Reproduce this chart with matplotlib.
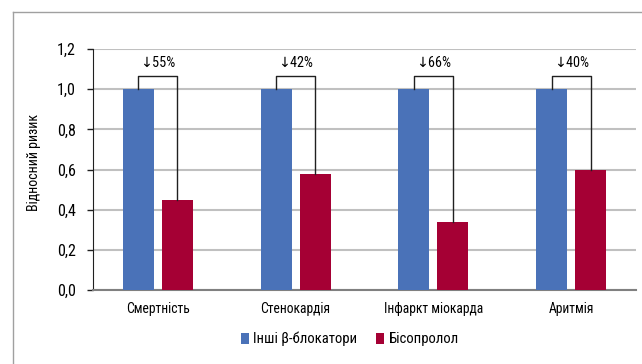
import numpy as np
import matplotlib.pyplot as plt
from matplotlib.lines import Line2D

categories = ['Смертність', 'Стенокардія', 'Інфаркт міокарда', 'Аритмія']
other_bb = [1.0, 1.0, 1.0, 1.0]
bisoprolol = [0.45, 0.58, 0.34, 0.60]
reduction = ['↓55%', '↓42%', '↓66%', '↓40%']
yticks = [0.0, 0.2, 0.4, 0.6, 0.8, 1.0, 1.2]

plt.rcParams['font.family'] = ['Roboto Condensed', 'DejaVu Sans']
plt.rcParams['font.size'] = 10

blue = '#4a72b8'
red = '#a50034'

fig = plt.figure(figsize=(6.42, 3.64), dpi=100)
ax = fig.add_axes([93/642, 1-290/364, (636-93)/642, (290-49)/364])

x = np.arange(len(categories))
w = 0.225
off = 0.141
ax.bar(x - off, other_bb, w, color=blue, zorder=3, label='Інші β-блокатори')
ax.bar(x + off, bisoprolol, w, color=red, zorder=3, label='Бісопролол')

# brackets with reduction labels
top = 1.067
for i in range(len(categories)):
    ax.plot([x[i]-off, x[i]-off, x[i]+off, x[i]+off],
            [other_bb[i], top, top, bisoprolol[i]],
            color='#202020', lw=1, zorder=4)
    ax.text(x[i], 1.13, reduction[i], ha='center', va='center', fontsize=10.3)

ax.set_xlim(-0.47, 3.47)
ax.set_ylim(0, 1.2)
ax.set_yticks(yticks)
ax.set_yticklabels([f'{v:.1f}'.replace('.', ',') for v in yticks], fontsize=11.5)
ax.set_xticks(x)
ax.set_xticklabels(categories, fontsize=9.8)
ax.tick_params(axis='x', length=0, pad=9)
ax.tick_params(axis='y', length=4.5, width=1, color='#202020', pad=8)
ax.yaxis.grid(True, color='#c0c0c0', lw=1.5, zorder=0)
ax.set_axisbelow(True)
for s in ['top', 'right']:
    ax.spines[s].set_visible(False)
ax.spines['left'].set_color('#202020')
ax.spines['bottom'].set_color('#808080')
ax.spines['bottom'].set_linewidth(1.5)
ax.set_ylabel('Відносний ризик', fontsize=10)
ax.yaxis.set_label_coords(-0.095, 0.53)

leg = fig.legend(loc='center', bbox_to_anchor=(350/642, 1-339/364), ncol=2,
                 frameon=False, handlelength=0.55, handleheight=0.75,
                 handletextpad=0.3, columnspacing=1.3, fontsize=10.5)

# outer frame (clipped at right and bottom)
fig.add_artist(Line2D([13/642, 1], [1-12/364, 1-12/364], color='#a0a0a0', lw=1))
fig.add_artist(Line2D([13/642, 13/642], [0, 1-12/364], color='#a0a0a0', lw=1))

fig.savefig('out.png', dpi=100)
